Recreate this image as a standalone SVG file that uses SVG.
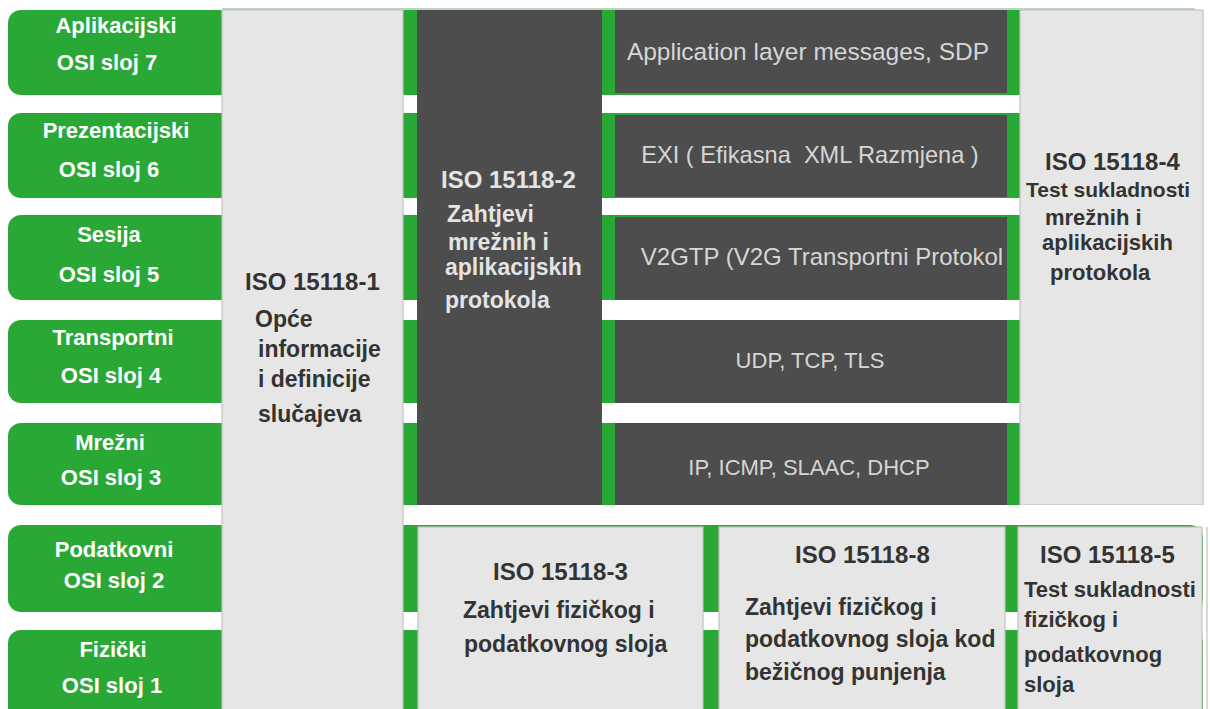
<svg xmlns="http://www.w3.org/2000/svg" width="1210" height="709" viewBox="0 0 1210 709">
<style>
.row{fill:#2aa836}
.gap{fill:#ffffff}
.light{fill:#e6e6e6;stroke:#c2c2c2;stroke-width:1.2}
.dark{fill:#4d4d4d}
text{font-family:"Liberation Sans",Arial,sans-serif}
.lbl{fill:#ffffff;font-weight:bold;font-size:22px;text-anchor:middle}
.dt{fill:#333333;font-weight:bold;font-size:23px}
.lt{fill:#e4e4e4;font-weight:bold;font-size:23px}
.pr{fill:#d6d6d6;font-size:22px;text-anchor:middle}
.t24{font-size:24px}
.t22{font-size:22px}
.t21{font-size:21px}
</style>
<rect x="0" y="0" width="1210" height="709" fill="#ffffff"/>
<line x1="222" y1="9" x2="1195" y2="9" stroke="#a9c4a9" stroke-width="1.5"/>

<g id="osi7"><rect class="row" x="8" y="10" width="1195" height="85" rx="13"/>
<text class="lbl" x="116" y="33">Aplikacijski</text><text class="lbl" x="107" y="70">OSI sloj 7</text></g>
<g id="osi6"><rect class="row" x="8" y="113" width="1195" height="85" rx="13"/>
<text class="lbl" x="116" y="138">Prezentacijski</text><text class="lbl" x="109" y="177">OSI sloj 6</text></g>
<g id="osi5"><rect class="row" x="8" y="215" width="1195" height="85" rx="13"/>
<text class="lbl" x="109" y="242">Sesija</text><text class="lbl" x="109" y="282">OSI sloj 5</text></g>
<g id="osi4"><rect class="row" x="8" y="320" width="1195" height="83" rx="13"/>
<text class="lbl" x="113" y="345">Transportni</text><text class="lbl" x="111" y="383">OSI sloj 4</text></g>
<g id="osi3"><rect class="row" x="8" y="423" width="1195" height="82" rx="13"/>
<text class="lbl" x="110" y="450">Mrežni</text><text class="lbl" x="111" y="485">OSI sloj 3</text></g>
<g id="osi2"><rect class="row" x="8" y="525" width="1195" height="87" rx="13"/>
<text class="lbl" x="114" y="557">Podatkovni</text><text class="lbl" x="114" y="588">OSI sloj 2</text></g>
<g id="osi1"><rect class="row" x="8" y="630" width="1195" height="95" rx="13"/>
<text class="lbl" x="113" y="657">Fizički</text><text class="lbl" x="112" y="693">OSI sloj 1</text></g>

<g id="iso1"><rect class="light" x="222" y="10" width="181" height="705"/>
<text class="dt t24" x="245" y="290">ISO 15118-1</text>
<text class="dt" x="255" y="327">Opće</text>
<text class="dt" x="258" y="357">informacije</text>
<text class="dt" x="258" y="387">i definicije</text>
<text class="dt" x="258" y="422">slučajeva</text></g>

<g id="iso2"><rect class="dark" x="417" y="10" width="185" height="495"/>
<text class="lt t24" x="441" y="188">ISO 15118-2</text>
<text class="lt" x="447" y="222">Zahtjevi</text>
<text class="lt" x="448" y="250">mrežnih i</text>
<text class="lt" x="445" y="275">aplikacijskih</text>
<text class="lt" x="445" y="308">protokola</text></g>

<g id="p7"><rect class="dark" x="615" y="10" width="392" height="83"/>
<text class="pr" x="808" y="60" style="font-size:24.5px">Application layer messages, SDP</text></g>
<g id="p6"><rect class="dark" x="615" y="115" width="392" height="82"/>
<text class="pr" x="810" y="163" style="font-size:23.6px" xml:space="preserve">EXI ( Efikasna  XML Razmjena )</text></g>
<g id="p5"><rect class="dark" x="615" y="217" width="392" height="83"/>
<text class="pr" x="822" y="265" style="font-size:24px">V2GTP (V2G Transportni Protokol</text></g>
<g id="p4"><rect class="dark" x="615" y="320" width="392" height="83"/>
<text class="pr" x="810" y="368">UDP, TCP, TLS</text></g>
<g id="p3"><rect class="dark" x="615" y="423" width="392" height="82"/>
<text class="pr" x="809" y="475">IP, ICMP, SLAAC, DHCP</text></g>

<g id="iso4"><rect class="light" x="1020" y="10" width="183" height="495"/>
<text class="dt t24" x="1045" y="170">ISO 15118-4</text>
<text class="dt t21" x="1026" y="197">Test sukladnosti</text>
<text class="dt t22" x="1045" y="225">mrežnih i</text>
<text class="dt t22" x="1042" y="250">aplikacijskih</text>
<text class="dt t22" x="1050" y="280">protokola</text></g>

<rect class="gap" x="404" y="505" width="806" height="20"/>

<g id="iso3"><rect class="light" x="418" y="527" width="285" height="190"/>
<text class="dt t24" x="493" y="580">ISO 15118-3</text>
<text class="dt" x="463" y="618">Zahtjevi fizičkog i</text>
<text class="dt" x="464" y="652">podatkovnog sloja</text></g>

<g id="iso8"><rect class="light" x="719" y="527" width="286" height="190"/>
<text class="dt t24" x="795" y="563">ISO 15118-8</text>
<text class="dt" x="745" y="615">Zahtjevi fizičkog i</text>
<text class="dt" x="745" y="647">podatkovnog sloja kod</text>
<text class="dt" x="745" y="680">bežičnog punjenja</text></g>

<g id="iso5"><rect class="light" x="1018" y="527" width="184" height="190"/>
<line x1="1207" y1="527" x2="1207" y2="709" stroke="#c2c2c2" stroke-width="1.2"/>
<text class="dt t24" x="1040" y="563">ISO 15118-5</text>
<text class="dt t22" x="1024" y="597">Test sukladnosti</text>
<text class="dt t22" x="1024" y="627">fizičkog i</text>
<text class="dt t22" x="1024" y="662">podatkovnog</text>
<text class="dt t22" x="1024" y="692">sloja</text></g>
</svg>
